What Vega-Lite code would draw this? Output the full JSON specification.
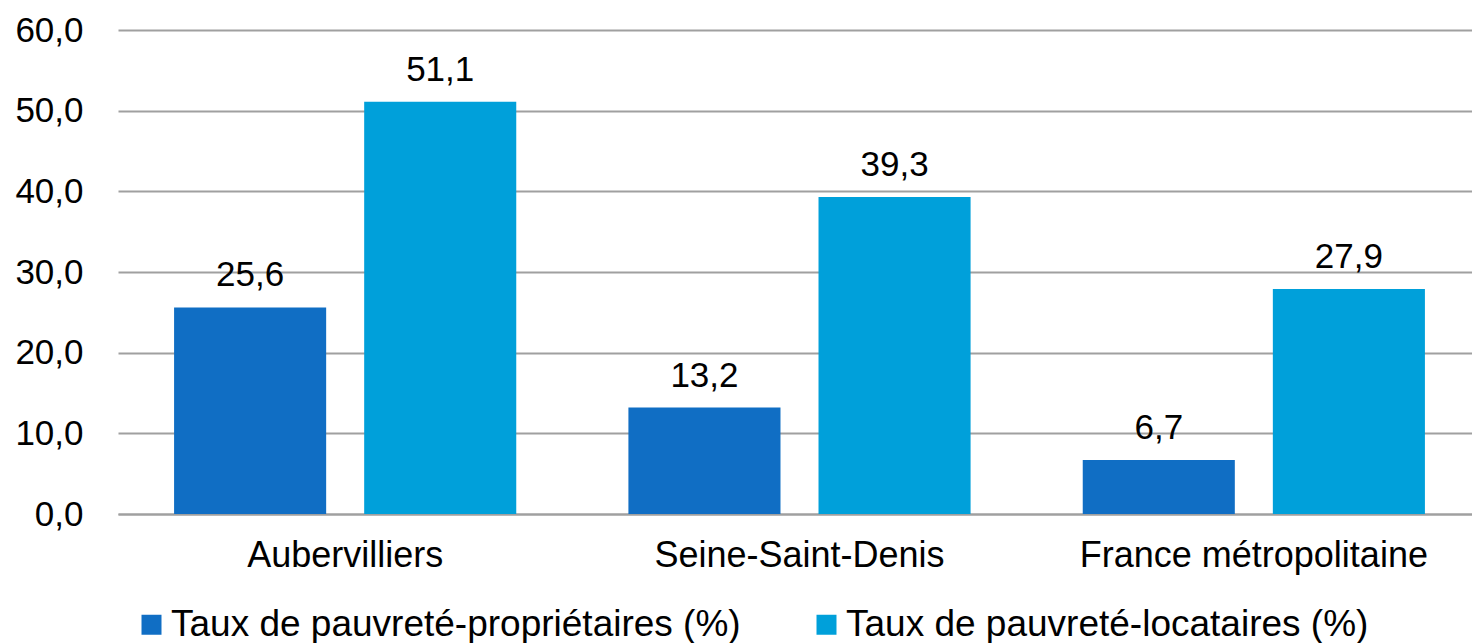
{
  "$schema": "https://vega.github.io/schema/vega-lite/v6.json",
  "width": 1363,
  "height": 484,
  "autosize": {"type": "none"},
  "padding": {"left": 118, "top": 30, "right": 0, "bottom": 129},
  "background": "white",
  "config": {
    "font": "Liberation Sans",
    "view": {"stroke": null},
    "locale": {"number": {"decimal": ",", "thousands": " ", "grouping": [3], "currency": ["", " €"]}}
  },
  "data": {
    "values": [
      {"zone": "Aubervilliers", "serie": "Taux de pauvreté-propriétaires (%)", "valeur": 25.6},
      {"zone": "Aubervilliers", "serie": "Taux de pauvreté-locataires (%)", "valeur": 51.1},
      {"zone": "Seine-Saint-Denis", "serie": "Taux de pauvreté-propriétaires (%)", "valeur": 13.2},
      {"zone": "Seine-Saint-Denis", "serie": "Taux de pauvreté-locataires (%)", "valeur": 39.3},
      {"zone": "France métropolitaine", "serie": "Taux de pauvreté-propriétaires (%)", "valeur": 6.7},
      {"zone": "France métropolitaine", "serie": "Taux de pauvreté-locataires (%)", "valeur": 27.9}
    ]
  },
  "encoding": {
    "x": {
      "field": "zone", "type": "nominal", "sort": null,
      "scale": {"paddingInner": 0, "paddingOuter": 0},
      "axis": {"title": null, "labelAngle": 0, "labelFontSize": 36, "labelLimit": 1000, "labelColor": "#000000", "labelPadding": 24, "ticks": false, "domainColor": "#A0A0A0", "domainWidth": 2, "grid": false}
    },
    "xOffset": {
      "field": "serie", "type": "nominal", "sort": null,
      "scale": {"paddingInner": 0.2, "paddingOuter": 0.295}
    }
  },
  "layer": [
    {
      "mark": {"type": "bar"},
      "encoding": {
        "y": {
          "field": "valeur", "type": "quantitative",
          "scale": {"domain": [0, 60]},
          "axis": {"title": null, "values": [0, 10, 20, 30, 40, 50, 60], "format": ".1f", "labelFontSize": 35, "labelColor": "#000000", "labelPadding": 35, "ticks": false, "domain": false, "gridColor": "#A0A0A0", "gridWidth": 2}
        },
        "color": {
          "field": "serie", "type": "nominal", "sort": null,
          "scale": {"domain": ["Taux de pauvreté-propriétaires (%)", "Taux de pauvreté-locataires (%)"], "range": ["#106EC4", "#00A0DA"]},
          "legend": {"title": null, "orient": "none", "legendX": 15, "legendY": 576, "direction": "horizontal", "symbolType": "square", "symbolSize": 400, "symbolStrokeWidth": 0, "labelFontSize": 37, "labelColor": "#000000", "labelLimit": 1000, "columnPadding": 67, "labelOffset": 1}
        }
      }
    },
    {
      "mark": {"type": "text", "baseline": "bottom", "dy": -14, "fontSize": 35, "color": "#000000"},
      "encoding": {
        "y": {"field": "valeur", "type": "quantitative"},
        "text": {"field": "valeur", "type": "quantitative", "format": ".1f"}
      }
    }
  ]
}
